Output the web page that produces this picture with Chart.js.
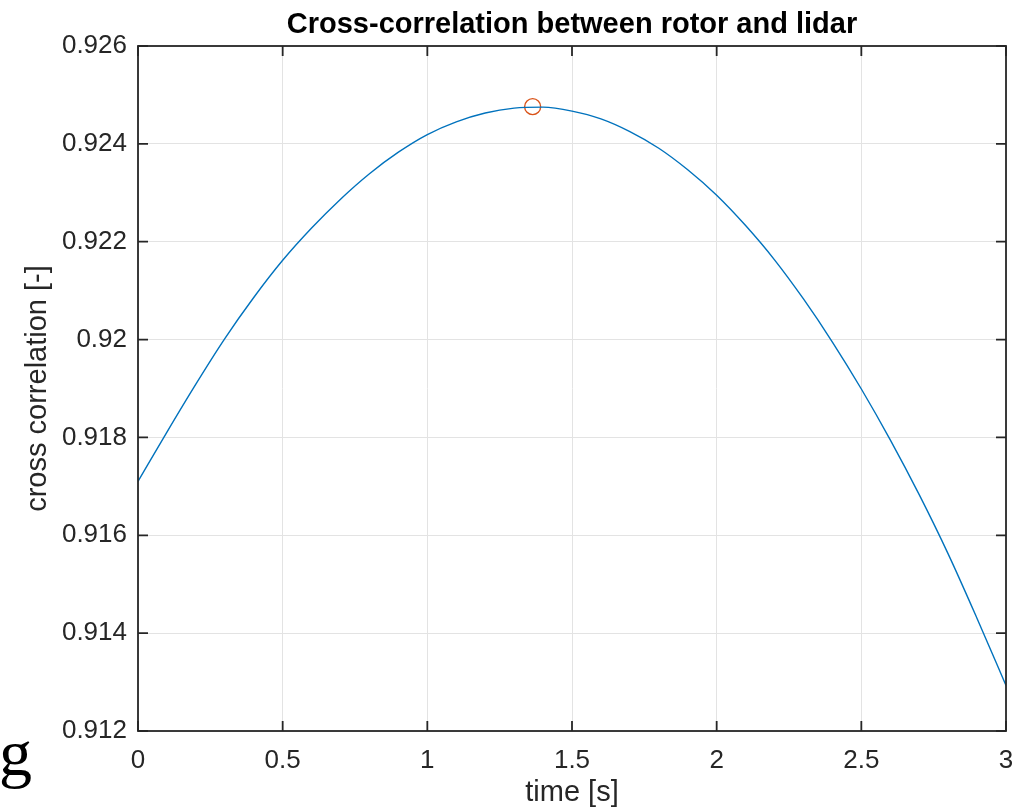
<!DOCTYPE html>
<html>
<head>
<meta charset="utf-8">
<script src="https://cdn.jsdelivr.net/npm/chart.js@4.4.1/dist/chart.umd.min.js"></script>
<style>
  html, body { margin: 0; padding: 0; background: #fff; }
  #chart { display: block; }
</style>
</head>
<body>
<canvas id="chart" width="1012" height="812"></canvas>
<script>
// values
const timeValues = [0, 0.1, 0.2, 0.3, 0.4, 0.5, 0.6, 0.7, 0.8, 0.9, 1.0, 1.1, 1.2, 1.3, 1.4, 1.5,
  1.6, 1.7, 1.8, 1.9, 2.0, 2.1, 2.2, 2.3, 2.4, 2.5, 2.6, 2.7, 2.8, 2.9, 3.0];
const corrValues = [0.91710, 0.91811, 0.91909, 0.92002, 0.92086, 0.92162, 0.92228, 0.92287, 0.92339,
  0.92383, 0.92419, 0.92445, 0.92463, 0.92473, 0.92475, 0.92467, 0.92451, 0.92425, 0.92391,
  0.92347, 0.92295, 0.92233, 0.92163, 0.92083, 0.91995, 0.91899, 0.91795, 0.91683, 0.91562,
  0.91430, 0.91293];
const peakTime = [1.364];
const peakCorr = [0.92476];
const xTicks = [0, 0.5, 1, 1.5, 2, 2.5, 3];
const yTicks = [0.912, 0.914, 0.916, 0.918, 0.92, 0.922, 0.924, 0.926];

const axisColor = '#262626';
const fmt = v => String(+Number(v).toFixed(3));

// box, inward ticks, title and the stray "g"
const matlabAxes = {
    id: 'matlabAxes',
    afterDraw: function (chart) {
        const ctx = chart.ctx;
        const a = chart.chartArea;
        const xs = chart.scales.x;
        const ys = chart.scales.y;
        const tl = 10;
        ctx.save();
        ctx.strokeStyle = axisColor;
        ctx.lineWidth = 1.8;
        ctx.strokeRect(a.left, a.top, a.right - a.left, a.bottom - a.top);
        ctx.beginPath();
        xTicks.forEach(function (t) {
            const px = xs.getPixelForValue(t);
            ctx.moveTo(px, a.bottom); ctx.lineTo(px, a.bottom - tl);
            ctx.moveTo(px, a.top); ctx.lineTo(px, a.top + tl);
        });
        yTicks.forEach(function (t) {
            const py = ys.getPixelForValue(t);
            ctx.moveTo(a.left, py); ctx.lineTo(a.left + tl, py);
            ctx.moveTo(a.right, py); ctx.lineTo(a.right - tl, py);
        });
        ctx.stroke();

        ctx.fillStyle = '#000';
        ctx.textAlign = 'center';
        ctx.textBaseline = 'alphabetic';
        ctx.font = 'bold 29px "Liberation Sans", Arial, sans-serif';
        ctx.fillText('Cross-correlation between rotor and lidar', (a.left + a.right) / 2, 33);

        ctx.textAlign = 'left';
        ctx.font = '66px "Liberation Serif", "Times New Roman", serif';
        ctx.fillText('g', -1, 775);
        ctx.restore();
    }
};

const ctx = document.getElementById('chart').getContext('2d');
new Chart(ctx, {
    type: 'line',
    data: {
        datasets: [{
            data: timeValues.map((t, i) => ({ x: t, y: corrValues[i] })),
            borderColor: '#0072BD',
            borderWidth: 1.4,
            pointRadius: 0,
            cubicInterpolationMode: 'monotone',
            fill: false
        }, {
            data: peakTime.map((t, i) => ({ x: t, y: peakCorr[i] })),
            showLine: false,
            pointRadius: 8,
            pointHoverRadius: 8,
            pointBackgroundColor: 'rgba(0,0,0,0)',
            pointBorderColor: '#D95319',
            pointBorderWidth: 1.4
        }]
    },
    options: {
        responsive: false,
        animation: false,
        layout: { autoPadding: false, padding: { left: 0, top: 46, right: 6, bottom: 0 } },
        plugins: {
            legend: { display: false },
            tooltip: { enabled: false },
            title: { display: false }
        },
        scales: {
            x: {
                type: 'linear',
                min: 0,
                max: 3,
                afterFit: function (scale) {
                    scale.height = 81;
                    scale.paddingLeft = 0;
                    scale.paddingRight = 0;
                },
                afterBuildTicks: function (scale) { scale.ticks = xTicks.map(v => ({ value: v })); },
                ticks: {
                    callback: fmt,
                    color: axisColor,
                    padding: 14,
                    maxRotation: 0,
                    autoSkip: false,
                    font: { family: '"Liberation Sans", Arial, sans-serif', size: 26 }
                },
                grid: { color: '#e3e3e3', lineWidth: 1, drawTicks: false },
                border: { display: false },
                title: {
                    display: true,
                    text: 'time [s]',
                    color: axisColor,
                    padding: { top: 0, bottom: 2 },
                    font: { family: '"Liberation Sans", Arial, sans-serif', size: 29 }
                }
            },
            y: {
                type: 'linear',
                min: 0.912,
                max: 0.926,
                afterFit: function (scale) {
                    scale.width = 138;
                    scale.paddingTop = 0;
                    scale.paddingBottom = 0;
                },
                afterBuildTicks: function (scale) { scale.ticks = yTicks.map(v => ({ value: v })); },
                ticks: {
                    callback: fmt,
                    color: axisColor,
                    padding: 11,
                    autoSkip: false,
                    font: { family: '"Liberation Sans", Arial, sans-serif', size: 26 }
                },
                grid: { color: '#e3e3e3', lineWidth: 1, drawTicks: false },
                border: { display: false },
                title: {
                    display: true,
                    text: 'cross correlation [-]',
                    color: axisColor,
                    padding: { top: 21, bottom: 0 },
                    font: { family: '"Liberation Sans", Arial, sans-serif', size: 29 }
                }
            }
        }
    },
    plugins: [matlabAxes]
});
</script>
</body>
</html>
